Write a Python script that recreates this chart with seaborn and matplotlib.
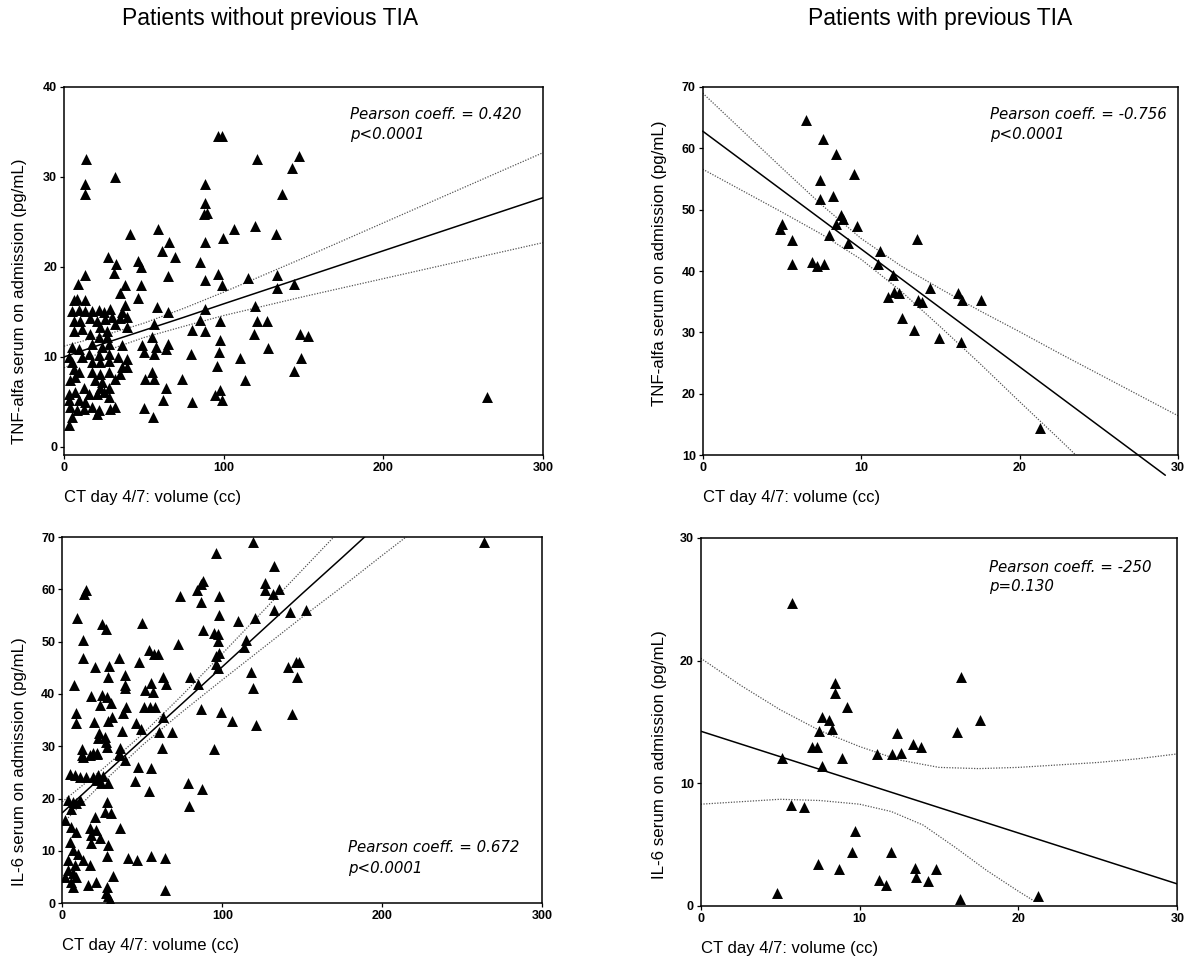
import numpy as np
import pandas as pd
import matplotlib
matplotlib.use("Agg")
import matplotlib.pyplot as plt
import seaborn as sns

# ---------------- data ----------------
# Panel 1: patients without previous TIA, TNF-alfa vs CT volume
p1_x = [13.6, 31.8, 13.4, 13.4, 41.2, 27.6, 32.6, 46.4, 48.0, 31.2, 13.4, 8.8, 38.1, 48.5, 34.9, 46.4,
        38.5, 6.1, 8.1, 13.4, 5.0, 9.2, 13.4, 17.6, 21.8, 24.9, 29.1, 36.4, 6.1, 10.2, 16.5, 20.7, 25.9,
        30.1, 35.3, 39.5, 6.1, 11.3, 16.5, 22.8, 27.0, 32.2, 39.5, 27.0, 21.8, 5.0, 9.2, 17.6, 23.8, 28.0,
        28.0, 21.8, 36.4, 49.0, 50.0, 2.9, 5.0, 11.3, 15.5, 17.6, 22.8, 28.0, 39.5, 6.1, 9.2, 17.6, 22.8,
        28.0, 36.4, 32.2, 51.0, 3.8, 7.1, 19.7, 23.8, 12.3, 22.8, 28.0, 2.9, 7.1, 15.5, 20.7, 24.9, 28.0,
        2.9, 9.2, 13.4, 3.8, 8.1, 12.3, 17.6, 20.7, 21.8, 29.1, 32.2, 5.0, 2.9, 50.4, 33.9, 39.5, 35.3,
        58.6, 61.3, 65.9, 69.5, 64.9, 58.0, 65.0, 56.5, 55.4, 57.5, 65.0, 63.8, 56.5, 55.4, 56.5, 63.8,
        62.3, 56.0, 73.6, 79.9, 79.5, 80.0, 85.0, 88.5, 88.3, 85.4, 88.3, 88.3, 87.9, 89.3, 88.3, 88.3,
        96.7, 98.7, 96.7, 98.7, 99.4, 106.7, 97.9, 97.7, 97.3, 95.6, 97.7, 99.0, 94.8, 110.0, 113.4,
        115.0, 120.7, 119.9, 119.7, 121.0, 118.8, 127.0, 128.0, 132.8, 133.7, 133.7, 136.4, 142.5,
        147.0, 144.0, 147.7, 152.7, 148.5, 144.3, 265.0]
p1_y = [32.0, 30.0, 29.2, 28.1, 23.7, 21.1, 20.3, 20.7, 20.0, 19.3, 19.1, 18.1, 18.0, 18.0, 17.1, 16.5,
        15.8, 16.3, 16.4, 16.3, 15.1, 15.2, 15.1, 15.1, 15.2, 15.0, 15.3, 15.0, 14.0, 14.0, 14.3, 14.0, 14.2,
        14.4, 14.3, 14.4, 12.9, 13.1, 12.6, 13.3, 12.9, 13.7, 13.3, 12.2, 12.2, 11.1, 10.9, 11.4, 11.1, 11.4,
        10.3, 10.2, 11.3, 11.3, 10.5, 10.0, 9.4, 10.0, 10.3, 9.4, 9.4, 9.6, 9.8, 8.7, 8.3, 8.3, 8.1,
        8.3, 8.9, 7.6, 7.6, 7.4, 7.8, 7.4, 7.2, 6.6, 6.5, 6.6, 5.9, 6.1, 5.9, 5.9, 6.1, 5.5,
        5.2, 5.2, 5.0, 4.4, 4.1, 4.2, 4.4, 3.7, 4.1, 4.2, 4.4, 3.3, 2.4, 4.3, 10.0, 8.9, 8.1,
        24.2, 21.8, 22.8, 21.1, 19.0, 15.6, 15.0, 13.7, 12.2, 11.1, 11.4, 10.9, 10.3, 8.3, 7.6, 6.6,
        5.2, 3.3, 7.5, 5.0, 10.3, 13.0, 14.1, 12.9, 15.3, 20.6, 18.5, 22.8, 25.9, 26.0, 27.1, 29.2,
        34.5, 34.5, 19.2, 18.0, 23.2, 24.2, 14.0, 11.9, 10.5, 9.0, 6.3, 5.2, 5.8, 9.9, 7.4,
        18.8, 32.0, 24.5, 15.7, 14.0, 12.6, 14.0, 11.0, 23.7, 19.1, 17.7, 28.1, 31.0,
        32.3, 18.1, 12.5, 12.3, 9.9, 8.4, 5.5]

# Panel 2: patients with previous TIA, TNF-alfa vs CT volume
p2_x = [6.54, 7.59, 8.43, 9.58, 7.42, 7.38, 8.22, 8.74, 8.85, 8.39, 9.73, 8.0, 9.16, 4.86, 5.03, 5.64,
        5.64, 6.92, 7.23, 7.63, 11.2, 11.05, 12.03, 11.68, 12.1, 12.37, 12.58, 13.5, 13.57, 13.84, 13.35,
        14.34, 14.9, 16.14, 16.35, 17.55, 16.33, 21.26]
p2_y = [64.6, 61.6, 59.1, 55.8, 54.9, 51.7, 52.2, 49.1, 48.4, 47.6, 47.3, 45.8, 44.5, 46.8, 47.6, 45.0,
        41.1, 41.5, 40.8, 41.1, 43.2, 41.1, 39.3, 35.7, 36.6, 36.4, 32.3, 45.2, 35.3, 34.9, 30.3,
        37.2, 29.0, 36.4, 35.3, 35.2, 28.5, 14.4]

# Panel 3: patients without previous TIA, IL-6 vs CT volume
p3_x = [15.0, 13.5, 9.2, 24.8, 27.5, 49.7, 12.9, 12.9, 53.9, 57.2, 35.4, 20.2, 29.1, 47.8, 28.5, 38.9,
        7.3, 55.5, 38.9, 38.9, 51.8, 56.6, 18.1, 24.8, 28.1, 30.2, 23.3, 40.0, 50.9, 55.1, 58.0, 31.0,
        37.9, 28.5, 8.8, 8.8, 19.8, 46.2, 48.9, 22.7, 22.3, 26.4, 27.5, 37.4, 28.1, 12.3, 12.3, 19.2,
        21.9, 35.8, 35.4,
        12.9, 17.1, 21.9, 35.8, 38.9, 47.2, 55.5, 45.5, 53.9, 4.6, 7.7, 10.8, 15.0, 19.1, 22.3, 25.4,
        28.5, 24.3, 21.2, 3.6, 6.7, 8.7, 10.8, 5.6, 28.1, 26.4, 30.6, 20.2, 35.8, 1.5, 5.6, 8.7, 17.1,
        21.2, 18.1, 23.3, 18.1, 28.5, 4.6, 6.7, 9.8, 28.1, 41.0, 46.6, 55.5, 3.6, 7.7, 12.9, 17.1, 3.6,
        6.7, 8.7, 5.6, 6.7, 31.6, 16.0, 21.2, 28.1, 27.5, 28.5, 29.5, 1.5,
        119.1, 96.3, 132.6, 87.9, 86.9, 126.8, 84.2, 97.7, 73.8, 126.8, 131.6, 135.3, 86.9, 120.2, 132.6,
        142.0, 152.4, 98.2, 109.6, 87.9, 94.8, 97.3, 97.3, 114.6, 72.4, 98.2, 96.3, 113.4, 96.3, 97.3,
        118.0, 119.1, 141.0, 146.2, 147.8, 146.8, 143.7, 80.0, 84.8, 86.9, 99.0, 106.0, 120.8, 63.0,
        64.5, 63.0, 68.6, 60.5, 62.6, 94.8, 78.6, 87.5, 79.4, 64.0, 64.4, 59.9, 263.6]
p3_y = [59.8, 59.2, 54.6, 53.3, 52.5, 53.6, 50.3, 46.8, 48.5, 47.6, 46.8, 45.1, 45.4, 46.1, 43.3, 43.7,
        41.8, 42.1, 41.7, 41.1, 40.7, 40.4, 39.6, 39.8, 39.5, 38.3, 37.9, 37.6, 37.6, 37.6, 37.6, 35.6,
        36.3, 34.9, 36.4, 34.5, 34.7, 34.4, 33.4, 32.5, 31.5, 31.8, 30.9, 32.9, 29.9, 29.4, 28.3, 28.8,
        28.8, 29.6, 28.5,
        28.0, 28.3, 28.6, 28.3, 27.4, 26.1, 25.8, 23.4, 21.5, 24.7, 24.5, 24.2, 24.1, 24.2, 24.5, 24.3,
        22.9, 22.9, 23.6, 19.7, 19.4, 19.1, 19.7, 18.1, 19.4, 17.5, 17.2, 16.5, 14.3, 15.9, 14.6, 13.7, 14.3,
        14.0, 13.0, 12.4, 11.5, 11.1, 11.8, 10.2, 9.5, 9.0, 8.6, 8.3, 9.0, 8.3, 7.3, 8.3, 7.3, 6.4,
        5.7, 5.1, 4.1, 3.2, 5.2, 3.5, 4.1, 3.2, 1.9, 1.3, 0.6, 5.1,
        69.1, 67.0, 64.4, 61.6, 61.1, 61.2, 59.8, 58.7, 58.7, 59.8, 59.2, 60.0, 57.6, 54.6, 56.1,
        55.7, 56.1, 55.1, 53.9, 52.2, 51.7, 51.4, 50.2, 50.4, 49.6, 47.9, 47.2, 48.9, 45.7, 44.9,
        44.2, 41.1, 45.2, 46.1, 46.1, 43.3, 36.2, 43.3, 42.0, 37.2, 36.6, 34.9, 34.1, 43.3,
        41.9, 35.6, 32.8, 32.8, 29.7, 29.4, 23.0, 21.8, 18.5, 8.6, 2.5, 47.7, 69.1]

# Panel 4: patients with previous TIA, IL-6 vs CT volume
p4_x = [5.72, 8.45, 8.45, 9.22, 7.61, 8.07, 7.44, 8.28, 6.98, 7.3, 12.37, 5.09, 7.65, 8.87, 11.07, 12.05,
        12.58, 13.38, 13.84, 5.66, 6.52, 9.71, 9.54, 12.01, 7.4, 8.72, 13.48, 13.54, 11.22, 11.64, 14.32,
        14.84, 4.82, 16.37, 17.57, 16.14, 16.31, 21.24]
p4_y = [24.7, 18.2, 17.4, 16.2, 15.4, 15.2, 14.3, 14.4, 13.0, 13.0, 14.1, 12.1, 11.4, 12.1, 12.4, 12.4,
        12.5, 13.2, 13.0, 8.2, 8.1, 6.1, 4.4, 4.4, 3.4, 3.0, 3.1, 2.4, 2.1, 1.7, 2.0,
        3.0, 1.1, 18.7, 15.2, 14.2, 0.6, 0.8]

# Regression lines and confidence curves
p1_fit_x = [0, 25, 50, 75, 100, 150, 200, 250, 300]
p1_fit_y = [10.0, 11.5, 12.95, 14.4, 15.9, 18.85, 21.8, 24.75, 27.7]
p1_up_y = [11.2, 12.4, 13.75, 15.4, 17.2, 21.0, 24.9, 28.8, 32.7]
p1_lo_y = [8.8, 10.6, 12.15, 13.4, 14.6, 16.7, 18.7, 20.7, 22.7]

p2_fit_x = [0, 29.2]
p2_fit_y = [62.8, 6.7]
p2_ci_x = [0, 2.5, 5, 7.5, 10, 12.5, 15, 17.5, 20, 22.5, 25, 27.5, 30]
p2_up_y = [69.0, 62.9, 56.8, 50.8, 45.3, 40.85, 37.1, 33.5, 30.1, 26.6, 23.2, 19.8, 16.4]
p2_lo_y = [56.6, 53.1, 49.6, 46.0, 41.9, 36.75, 30.9, 24.9, 18.7, 12.6, 6.4, 0.2, -6.0]

p3_fit_x = [0, 25, 50, 75, 100, 125, 150, 175, 200, 225]
p3_fit_y = [17.3, 24.3, 31.25, 38.2, 45.2, 52.2, 59.2, 66.1, 73.1, 80.1]
p3_up_y = [19.4, 25.6, 32.3, 39.8, 47.7, 55.7, 63.7, 71.7, 79.7, 87.8]
p3_lo_y = [15.2, 23.0, 30.2, 36.6, 42.7, 48.7, 54.7, 60.5, 66.5, 72.4]

p4_fit_x = [0, 30]
p4_fit_y = [14.25, 1.8]
p4_up_x = [0, 2.5, 5, 7.5, 10, 12.5, 15, 17.5, 20, 22.5, 25, 27.5, 30]
p4_up_y = [20.2, 18.0, 16.0, 14.3, 13.0, 11.9, 11.3, 11.2, 11.3, 11.5, 11.7, 12.0, 12.4]
p4_lo_x = [0, 2.5, 5, 7.5, 10, 12, 14, 16, 18, 20, 21]
p4_lo_y = [8.3, 8.5, 8.7, 8.6, 8.3, 7.7, 6.6, 4.8, 2.9, 1.2, 0.4]

titles = ["Patients without previous TIA", "Patients with previous TIA"]
xlabel = "CT day 4/7: volume (cc)"
ylabels = ["TNF-alfa serum on admission (pg/mL)", "IL-6 serum on admission (pg/mL)"]
annotations = [("Pearson coeff. = 0.420", "p<0.0001"),
               ("Pearson coeff. = -0.756", "p<0.0001"),
               ("Pearson coeff. = 0.672", "p<0.0001"),
               ("Pearson coeff. = -250", "p=0.130")]

# ---------------- styling ----------------
sns.set_theme(style="ticks")
plt.rcParams["font.family"] = ["Liberation Sans", "DejaVu Sans"]
plt.rcParams["text.color"] = "black"
plt.rcParams["axes.labelcolor"] = "black"
plt.rcParams["xtick.color"] = "black"
plt.rcParams["ytick.color"] = "black"
plt.rcParams["axes.linewidth"] = 1.1
plt.rcParams["xtick.major.size"] = 3
plt.rcParams["ytick.major.size"] = 3
plt.rcParams["xtick.major.width"] = 0.9
plt.rcParams["ytick.major.width"] = 0.9

W, H = 1186, 958
fig = plt.figure(figsize=(W / 100, H / 100), dpi=100)


def add_axes(l, t, r, b):
    return fig.add_axes([l / W, 1 - b / H, (r - l) / W, (b - t) / H])


ax1 = add_axes(64, 87, 543, 455)
ax2 = add_axes(702.7, 87, 1178, 455)
ax3 = add_axes(62.3, 537, 542.3, 903.3)
ax4 = add_axes(700.7, 538, 1177.3, 906)

ci_style = dict(color="#555555", lw=0.9, linestyle=(0, (1, 1.2)))
fit_style = dict(color="black", lw=1.1)
mk = dict(marker="^", color="black", s=62, linewidth=0)


def scatter(ax, x, y):
    sns.scatterplot(x=x, y=y, ax=ax, legend=False, zorder=3, **mk)


def line(ax, x, y, style, clip=True):
    sns.lineplot(x=x, y=y, ax=ax, legend=False, estimator=None, sort=False,
                 clip_on=clip, **style)


# Panel 1
scatter(ax1, p1_x, p1_y)
line(ax1, p1_fit_x, p1_fit_y, fit_style)
line(ax1, p1_fit_x, p1_up_y, ci_style)
line(ax1, p1_fit_x, p1_lo_y, ci_style)
ax1.set_xlim(0, 300)
ax1.set_ylim(-0.9, 40)
ax1.set_xticks([0, 100, 200, 300])
ax1.set_yticks([0, 10, 20, 30, 40])

# Panel 2
scatter(ax2, p2_x, p2_y)
line(ax2, p2_fit_x, p2_fit_y, fit_style, clip=False)
line(ax2, p2_ci_x, p2_up_y, ci_style)
line(ax2, p2_ci_x, p2_lo_y, ci_style)
ax2.set_xlim(0, 30)
ax2.set_ylim(10, 70)
ax2.set_xticks([0, 10, 20, 30])
ax2.set_yticks([10, 20, 30, 40, 50, 60, 70])

# Panel 3
scatter(ax3, p3_x, p3_y)
line(ax3, p3_fit_x, p3_fit_y, fit_style)
line(ax3, p3_fit_x, p3_up_y, ci_style)
line(ax3, p3_fit_x, p3_lo_y, ci_style)
ax3.set_xlim(0, 300)
ax3.set_ylim(0, 70)
ax3.set_xticks([0, 100, 200, 300])
ax3.set_yticks([0, 10, 20, 30, 40, 50, 60, 70])

# Panel 4
scatter(ax4, p4_x, p4_y)
line(ax4, p4_fit_x, p4_fit_y, fit_style)
line(ax4, p4_up_x, p4_up_y, ci_style)
line(ax4, p4_lo_x, p4_lo_y, ci_style)
ax4.set_xlim(0, 30)
ax4.set_ylim(0, 30)
ax4.set_xticks([0, 10, 20, 30])
ax4.set_yticks([0, 10, 20, 30])

axes = [ax1, ax2, ax3, ax4]
ylab_coords = [(-0.077, 0.418), (-0.075, 0.52), (-0.074, 0.388), (-0.071, 0.41)]
ann_pos = [(0.597, 0.924, 0.870), (0.604, 0.924, 0.870),
           (0.595, 0.151, 0.096), (0.605, 0.921, 0.867)]

for i, ax in enumerate(axes):
    for s in ax.spines.values():
        s.set_visible(True)
        s.set_color("black")
    ax.tick_params(axis="both", labelsize=9, pad=2, colors="black")
    for lab in ax.get_xticklabels() + ax.get_yticklabels():
        lab.set_fontweight("bold")
    ax.set_xlabel(xlabel, fontsize=12, loc="left", color="black")
    ax.xaxis.set_label_coords(0, -0.095)
    ax.xaxis.label.set_verticalalignment("top")
    ax.set_ylabel(ylabels[i // 2], fontsize=12.2, color="black")
    ax.yaxis.set_label_coords(*ylab_coords[i])
    ax.grid(False)
    l1, l2 = annotations[i]
    xa, ya1, ya2 = ann_pos[i]
    ax.text(xa, ya1, l1, transform=ax.transAxes, ha="left", va="center",
            fontsize=10.8, style="italic", family="DejaVu Sans", color="black")
    ax.text(xa, ya2, l2, transform=ax.transAxes, ha="left", va="center",
            fontsize=10.8, style="italic", family="DejaVu Sans", color="black")

fig.text(270 / W, 1 - 18 / H, titles[0], ha="center", va="center", fontsize=16.5, color="black")
fig.text(940 / W, 1 - 18 / H, titles[1], ha="center", va="center", fontsize=16.5, color="black")

fig.savefig("out.png", dpi=100, facecolor="white")
